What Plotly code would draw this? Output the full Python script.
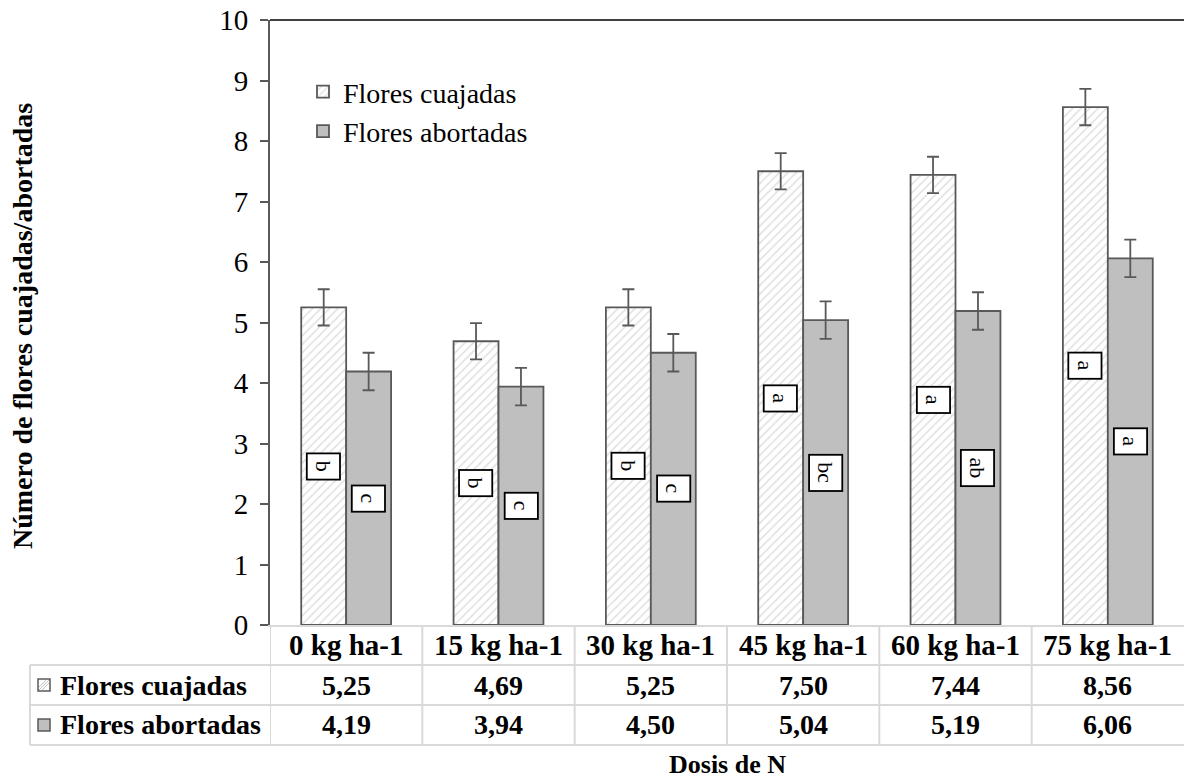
import plotly.graph_objects as go

categories = ["0 kg ha-1", "15 kg ha-1", "30 kg ha-1", "45 kg ha-1", "60 kg ha-1", "75 kg ha-1"]
cuajadas = [5.25, 4.69, 5.25, 7.50, 7.44, 8.56]
abortadas = [4.19, 3.94, 4.50, 5.04, 5.19, 6.06]
err_cuajadas = [0.30, 0.30, 0.30, 0.30, 0.30, 0.30]
err_abortadas = [0.31, 0.31, 0.31, 0.31, 0.31, 0.31]
letters_cuajadas = ["b", "b", "b", "a", "a", "a"]
letters_abortadas = ["c", "c", "c", "bc", "ab", "a"]
series_names = ["Flores cuajadas", "Flores abortadas"]
y_ticks = list(range(0, 11))

FONT = "Liberation Serif"
W, H = 1184, 778
L, T, B_PX = 270, 20, 625
R_PX = 1184
PH = B_PX - T
PW = R_PX - L

def yp(p):
    return (B_PX - p) / PH

def xp(p):
    return (p - L) / PW

xs = list(range(len(categories)))
bargap = 0.41
bw = (1 - bargap) / 2

fig = go.Figure()
fig.add_trace(go.Bar(
    x=xs, y=cuajadas, name=series_names[0], legendgroup="g1",
    marker=dict(color="white", line=dict(color="#595959", width=1.8),
                pattern=dict(shape="/", fgcolor="#c0c0c0", bgcolor="white", size=6, solidity=0.25)),
    error_y=dict(type="data", array=err_cuajadas, color="#595959", thickness=1.8, width=6),
    hoverinfo="skip",
))
fig.add_trace(go.Bar(
    x=xs, y=abortadas, name=series_names[1], legendgroup="g2",
    marker=dict(color="#bfbfbf", line=dict(color="#595959", width=1.8)),
    error_y=dict(type="data", array=err_abortadas, color="#595959", thickness=1.8, width=6),
    hoverinfo="skip",
))

ann = []
shapes = []

# letter labels inside bars
for i in xs:
    for vals, lets, off in ((cuajadas, letters_cuajadas, -bw / 2), (abortadas, letters_abortadas, bw / 2)):
        t = lets[i]
        ann.append(dict(
            x=i + off, y=vals[i] / 2, xref="x", yref="y", text=t, showarrow=False,
            xanchor="center", yanchor="middle",
            textangle=90, font=dict(family=FONT, size=22, color="black"),
            bgcolor="white", bordercolor="black", borderwidth=1.8, borderpad=4,
            width=16 if len(t) == 1 else 26, height=23, align="center", valign="middle",
        ))

# top border line
shapes.append(dict(type="line", xref="paper", yref="paper", x0=0, x1=1, y0=1, y1=1,
                   line=dict(color="black", width=1.5)))

# data table
grid = "#d9d9d9"
row_y = [645, 685, 725]
for k in range(0, 6):
    shapes.append(dict(type="line", xref="x", yref="paper", x0=k - 0.5, x1=k - 0.5,
                       y0=yp(625), y1=yp(745), line=dict(color=grid, width=2)))
for py_ in (665, 705, 745):
    shapes.append(dict(type="line", xref="paper", yref="paper", x0=xp(30), x1=1,
                       y0=yp(py_), y1=yp(py_), line=dict(color=grid, width=2)))
shapes.append(dict(type="line", xref="paper", yref="paper", x0=xp(30), x1=xp(30),
                   y0=yp(665), y1=yp(745), line=dict(color=grid, width=2)))

tfont = dict(family=FONT, size=28, color="black")
hfont = dict(family=FONT, size=29, color="black")
for i, c in enumerate(categories):
    ann.append(dict(x=i, y=yp(row_y[0]), xref="x", yref="paper", text="<b>%s</b>" % c,
                    xanchor="center", yanchor="middle", showarrow=False, font=hfont))
    ann.append(dict(x=i, y=yp(row_y[1]), xref="x", yref="paper",
                    text="<b>%s</b>" % ("%.2f" % cuajadas[i]).replace(".", ","),
                    xanchor="center", yanchor="middle", showarrow=False, font=tfont))
    ann.append(dict(x=i, y=yp(row_y[2]), xref="x", yref="paper",
                    text="<b>%s</b>" % ("%.2f" % abortadas[i]).replace(".", ","),
                    xanchor="center", yanchor="middle", showarrow=False, font=tfont))

for name, py_ in zip(series_names, row_y[1:]):
    ann.append(dict(x=xp(58), y=yp(py_), xref="paper", yref="paper", text="<b>%s</b>" % name,
                    xanchor="left", yanchor="middle", showarrow=False, font=tfont))

# legend keys in table
for py_, fill in ((685, "white"), (725, "#bfbfbf")):
    shapes.append(dict(type="rect", xref="paper", yref="paper", x0=xp(38), x1=xp(50),
                       y0=yp(py_ + 6), y1=yp(py_ - 6), fillcolor=fill,
                       line=dict(color="#595959", width=1.5)))
for d in (-3, 0, 3):
    shapes.append(dict(type="line", xref="paper", yref="paper",
                       x0=xp(39 + max(0, d)), y0=yp(690 - max(0, -d)),
                       x1=xp(49 - max(0, -d)), y1=yp(680 + max(0, d)),
                       line=dict(color="#c0c0c0", width=1)))

# axis titles
ann.append(dict(x=xp(22), y=yp(326), xref="paper", yref="paper",
                text="<b>Número de flores cuajadas/abortadas</b>", textangle=-90, showarrow=False,
                xanchor="center", yanchor="middle",
                font=dict(family=FONT, size=28, color="black")))
ann.append(dict(x=0.5, y=yp(764), xref="paper", yref="paper", text="<b>Dosis de N</b>",
                xanchor="center", yanchor="middle",
                showarrow=False, font=dict(family=FONT, size=26, color="black")))

fig.update_layout(
    width=W, height=H,
    margin=dict(l=L, r=W - R_PX, t=T, b=H - B_PX, pad=0),
    paper_bgcolor="white", plot_bgcolor="white",
    barmode="group", bargap=bargap, bargroupgap=0,
    showlegend=True,
    font=dict(family=FONT),
    legend=dict(x=xp(303), y=yp(67), xanchor="left", yanchor="top",
                font=dict(family=FONT, size=28, color="black"),
                bgcolor="rgba(0,0,0,0)", tracegroupgap=5, itemwidth=30, traceorder="normal"),
    xaxis=dict(range=[-0.5, 5.5], showticklabels=False, ticks="", showgrid=False,
               showline=True, linecolor=grid, linewidth=2, zeroline=False, fixedrange=True),
    yaxis=dict(range=[0, 10], tickvals=y_ticks, ticks="outside", ticklen=8, tickwidth=1.5,
               tickcolor="#595959", showline=True, linecolor="#595959", linewidth=2,
               showgrid=False, zeroline=False, ticklabelstandoff=6,
               tickfont=dict(family=FONT, size=29, color="black")),
    annotations=ann, shapes=shapes,
)

fig.write_html("out.html")
